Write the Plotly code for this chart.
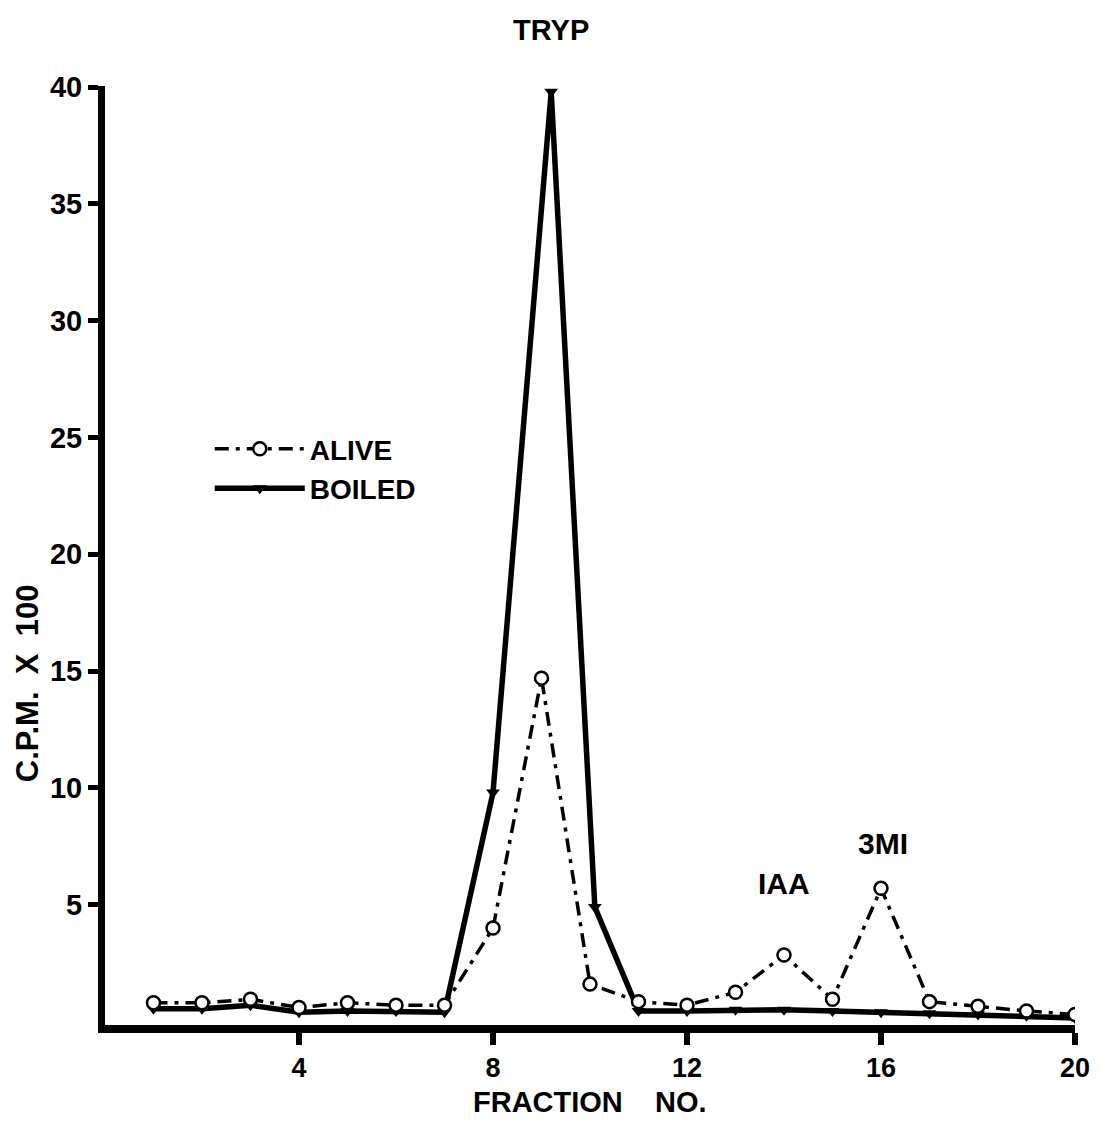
import plotly.graph_objects as go

# Fraction numbers and counts (C.P.M. x 100)
fractions = list(range(1, 21))
alive_cpm = [0.8, 0.8, 0.95, 0.6, 0.8, 0.7, 0.7, 4.0, 14.7, 1.6, 0.85, 0.7,
             1.25, 2.85, 0.95, 5.7, 0.85, 0.65, 0.45, 0.3]
boiled_fraction = [1, 2, 3, 4, 5, 6, 7, 8, 9.2, 10.1, 11, 12, 13, 14, 15, 16, 17, 18, 19, 20]
boiled_cpm = [0.55, 0.55, 0.7, 0.4, 0.45, 0.45, 0.4, 9.8, 39.8, 4.9, 0.45, 0.45,
              0.5, 0.5, 0.45, 0.4, 0.35, 0.3, 0.25, 0.15]

x_ticks = [4, 8, 12, 16, 20]
y_ticks = [5, 10, 15, 20, 25, 30, 35, 40]

peak_labels = ["IAA", "3MI"]
peak_x = [14.0, 16.05]
peak_y = [5.9, 7.6]

FONT = "Liberation Sans"

fig = go.Figure()

fig.add_trace(go.Scatter(
    x=boiled_fraction, y=boiled_cpm, mode="lines+markers", name="BOILED",
    line=dict(color="black", width=5.5),
    marker=dict(symbol="triangle-down", size=12, color="black"),
))
fig.add_trace(go.Scatter(
    x=fractions, y=alive_cpm, mode="lines+markers", name="ALIVE",
    line=dict(color="black", width=3.5, dash="14px,7px,4px,7px"),
    marker=dict(symbol="circle", size=13, color="white",
                line=dict(color="black", width=2.5)),
))

# Peak labels
fig.add_annotation(x=9.2, y=1.06, xref="x", yref="paper", yanchor="middle",
                   text="TRYP", showarrow=False,
                   font=dict(family=FONT, size=29, color="black", weight="bold"))
for label, px, py in zip(peak_labels, peak_x, peak_y):
    fig.add_annotation(x=px, y=py, xref="x", yref="y", text=label, showarrow=False,
                       font=dict(family=FONT, size=30, color="black", weight="bold"))

# Axis titles
fig.add_annotation(x=-0.08, y=14.5, xref="paper", yref="y", xanchor="center",
                   yanchor="middle",
                   text="C.P.M.\u00a0\u00a0X\u00a0\u00a0100", textangle=-90, showarrow=False,
                   font=dict(family=FONT, size=31, color="black", weight="bold"))
fig.add_annotation(x=0.5, y=-0.082, xref="paper", yref="paper", xanchor="center",
                   yanchor="middle",
                   text="FRACTION\u00a0\u00a0\u00a0\u00a0NO.", showarrow=False,
                   font=dict(family=FONT, size=29, color="black", weight="bold"))

fig.update_xaxes(
    range=[0, 20], tickvals=x_ticks, ticks="outside", ticklen=12, tickwidth=6,
    tickcolor="black", showline=True, linewidth=8, linecolor="black",
    showgrid=False, zeroline=False,
    tickfont=dict(family=FONT, size=27, color="black", weight="bold"),
)
fig.update_yaxes(
    range=[-0.15, 40.05], tickvals=y_ticks, ticks="outside", ticklen=10, tickwidth=5,
    tickcolor="black", showline=True, linewidth=7, linecolor="black",
    showgrid=False, zeroline=False,
    tickfont=dict(family=FONT, size=29, color="black", weight="bold"),
)

fig.update_layout(
    width=1102, height=1131,
    margin=dict(l=105, r=20, t=86, b=106),
    paper_bgcolor="white", plot_bgcolor="white",
    showlegend=True,
    legend=dict(x=0.108, y=0.64, xanchor="left", yanchor="top",
                traceorder="reversed", itemwidth=90, bgcolor="rgba(0,0,0,0)",
                font=dict(family=FONT, size=28, color="black", weight="bold")),
)

fig.write_html("out.html")
